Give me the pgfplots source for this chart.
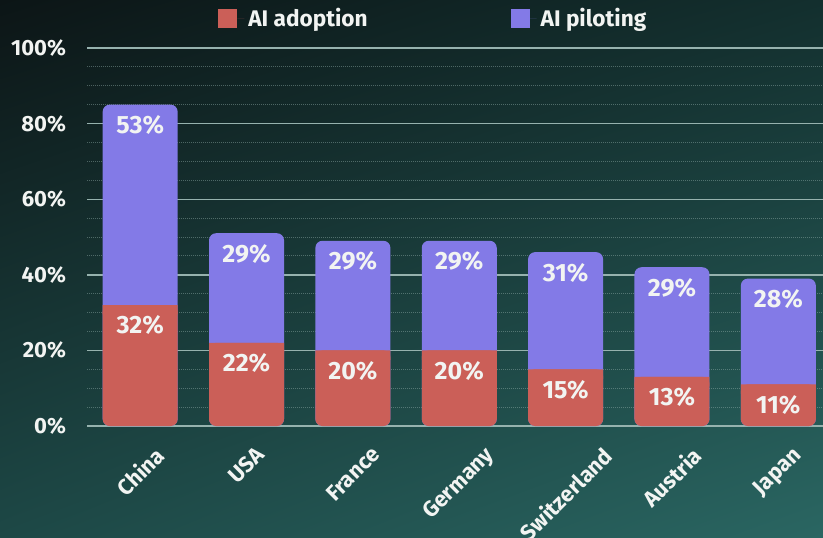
\documentclass[border=0pt]{standalone}
\usepackage{pgfplots}
\pgfplotsset{compat=1.18}
\usetikzlibrary{shadings}
\usepackage{fontspec}
\setmainfont{Fira Sans}
\definecolor{adopt}{RGB}{203,95,88}
\definecolor{pilot}{RGB}{131,122,231}
\definecolor{gridc}{RGB}{150,178,174}
\definecolor{txt}{RGB}{242,244,242}
\definecolor{bgTL}{RGB}{12,21,22}
\definecolor{bgTR}{RGB}{19,47,46}
\definecolor{bgBL}{RGB}{29,72,70}
\definecolor{bgBR}{RGB}{42,102,98}
\newcommand{\rl}[1]{\rotatebox{45}{#1}}
\begin{document}
\begin{tikzpicture}[x=1pt,y=1pt]
\path[use as bounding box] (0,0) rectangle (411.5,268.5);
\clip (0,0) rectangle (411.5,268.5);
\shade[upper left=bgTL, upper right=bgTR, lower left=bgBL, lower right=bgBR] (0,0) rectangle (411.5,268.5);
\pgfplotsset{base/.style={
  scale only axis, width=368pt, height=189pt, at={(43.5pt,55.5pt)}, anchor=south west,
  xmin=-0.5, xmax=6.42, ymin=0, ymax=100,
  axis line style={draw=none}, major tick length=0pt, minor tick length=0pt,
  clip=false}}
% axis 1: grid, bars, legend
\begin{axis}[base,
  xtick={0,...,6}, xticklabels={\rl{China},\rl{USA},\rl{France},\rl{Germany},\rl{Switzerland},\rl{Austria},\rl{Japan}},
  xticklabel style={anchor=north, font=\bfseries\fontsize{11}{13}\selectfont, text=txt, inner sep=0pt, yshift=-9.5pt},
  ytick={0,20,...,100}, minor ytick={5,10,...,95},
  yticklabel={\pgfmathprintnumber{\tick}\%},
  yticklabel style={font=\bfseries\fontsize{11}{13}\selectfont, text=txt, xshift=-7pt},
  /pgf/number format/assume math mode=true,
  ymajorgrids, yminorgrids,
  major grid style={gridc, line width=0.7pt},
  minor grid style={gridc, opacity=0.45, line width=0.5pt, dash pattern=on 0.5pt off 0.5pt},
  legend columns=2,
  legend style={at={(0.178,1.077)}, anchor=west, draw=none, fill=none, text=txt,
    font=\bfseries\fontsize{11.3}{13}\selectfont, inner sep=0pt,
    /tikz/every even column/.append style={column sep=69.5pt}},
  legend cell align=left,
  legend image code/.code={\fill[#1, draw=none] (0pt,-4.75pt) rectangle (9.5pt,4.75pt);
     \path (9.5pt,0pt) -- (13pt,0pt);},
]
\addlegendimage{fill=adopt, draw=none}
\addlegendentry{AI adoption}
\addlegendimage{fill=pilot, draw=none}
\addlegendentry{AI piloting}
\addplot[ybar, bar width=37.5pt, bar shift=0pt, fill=pilot, draw=none, rounded corners=3.5pt, forget plot]
  coordinates {(0,85) (1,51) (2,49) (3,49) (4,46) (5,42) (6,39)};
\addplot[ybar, bar width=37.5pt, bar shift=0pt, fill=adopt, draw=none, rounded corners=3.5pt, forget plot]
  coordinates {(0,32) (1,22) (2,20) (3,20) (4,15) (5,13) (6,11)};
\end{axis}
% axis 2: square tops of red segments
\begin{axis}[base, hide axis, ybar stacked, bar width=37.5pt]
\addplot[fill=none, draw=none] coordinates {(0,29.5) (1,19.5) (2,17.5) (3,17.5) (4,12.5) (5,10.5) (6,8.5)};
\addplot[fill=adopt, draw=none] coordinates {(0,2.5) (1,2.5) (2,2.5) (3,2.5) (4,2.5) (5,2.5) (6,2.5)};
\end{axis}
% axis 3: value labels
\begin{axis}[base, hide axis]
\addplot[only marks, mark=none, nodes near coords, point meta=explicit symbolic,
  every node near coord/.append style={anchor=center, text=txt, inner sep=0pt, font=\bfseries\fontsize{12.5}{14}\selectfont}]
  coordinates {(0,79.6)[53\%] (1,45.6)[29\%] (2,43.6)[29\%] (3,43.6)[29\%] (4,40.6)[31\%] (5,36.6)[29\%] (6,33.6)[28\%]};
\addplot[only marks, mark=none, nodes near coords, point meta=explicit symbolic,
  every node near coord/.append style={anchor=center, text=txt, inner sep=0pt, font=\bfseries\fontsize{12.5}{14}\selectfont}]
  coordinates {(0,26.6)[32\%] (1,16.6)[22\%] (2,14.6)[20\%] (3,14.6)[20\%] (4,9.6)[15\%] (5,7.6)[13\%] (6,5.6)[11\%]};
\end{axis}
\end{tikzpicture}
\end{document}
